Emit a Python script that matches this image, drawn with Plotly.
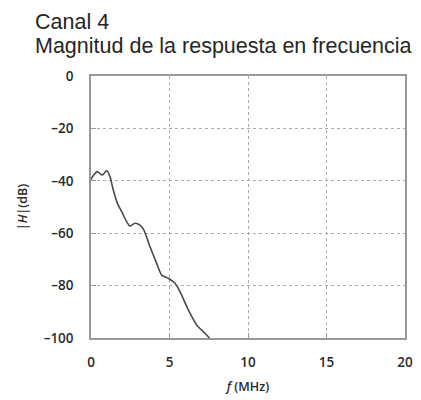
import plotly.graph_objects as go

freq_mhz = [0.0, 0.15, 0.4, 0.72, 1.0, 1.21, 1.42, 1.68, 1.96, 2.27, 2.48, 2.8, 3.12, 3.37,
            3.76, 4.18, 4.5, 4.92, 5.35, 5.67, 6.2, 6.73, 7.26, 7.54]
mag_db = [-39.5, -38.0, -36.5, -37.8, -36.1, -38.4, -43.5, -48.6, -51.8, -55.6, -57.3, -56.2,
          -56.9, -58.8, -65.2, -71.5, -76.0, -77.2, -79.1, -82.3, -89.3, -95.0, -98.2, -100.0]
x_ticks = [0, 5, 10, 15, 20]
y_ticks = [0, -20, -40, -60, -80, -100]
y_tick_text = ["0", "–20", "–40", "–60", "–80", "–100"]

fig = go.Figure()
fig.add_trace(go.Scatter(x=freq_mhz, y=mag_db, mode="lines",
                         line=dict(color="#4a4a4a", width=1.6, shape="spline", smoothing=0.6),
                         showlegend=False))

tick_font = dict(family="Open Sans, sans-serif", size=13.5, color="#2a2a2a", weight=600)
title_font = dict(family="Open Sans, sans-serif", size=12.5, color="#2a2a2a", weight=600)
fig.update_xaxes(range=[0, 20], tickvals=x_ticks, ticktext=[str(v) for v in x_ticks],
                 showgrid=True, gridcolor="#aaaaaa", griddash="dot", gridwidth=1,
                 showline=True, linecolor="#999999", linewidth=1.5, mirror=True,
                 ticks="inside", ticklen=5, tickcolor="#999999", tickfont=tick_font,
                 zeroline=False, ticklabelstandoff=11, automargin=False,
                 title=dict(text="<i>f</i> (MHz)", font=title_font, standoff=12))
fig.update_yaxes(range=[-100, 0], tickvals=y_ticks, ticktext=y_tick_text,
                 showgrid=True, gridcolor="#aaaaaa", griddash="dot", gridwidth=1,
                 showline=True, linecolor="#999999", linewidth=1.5, mirror=True,
                 ticks="inside", ticklen=5, tickcolor="#999999", tickfont=tick_font,
                 zeroline=False, ticklabelstandoff=13, automargin=False,
                 title=dict(text="|<i>H</i>|(dB)", font=title_font, standoff=13))

head_font = dict(family="Liberation Sans, Arial, sans-serif", size=21.5, color="#262626")
fig.add_annotation(text="Canal 4", xref="paper", yref="paper", x=-0.184, y=1.208,
                   xanchor="left", yanchor="middle", showarrow=False, font=head_font)
fig.add_annotation(text="Magnitud de la respuesta en frecuencia", xref="paper", yref="paper",
                   x=-0.184, y=1.115, xanchor="left", yanchor="middle", showarrow=False,
                   font=head_font)

# page body adds an 8px margin, so the figure is sized to fit the window after it
fig.update_layout(width=413, height=392, margin=dict(l=83, r=16, t=68, b=62),
                  plot_bgcolor="white", paper_bgcolor="white")
fig.write_html("out.html")
